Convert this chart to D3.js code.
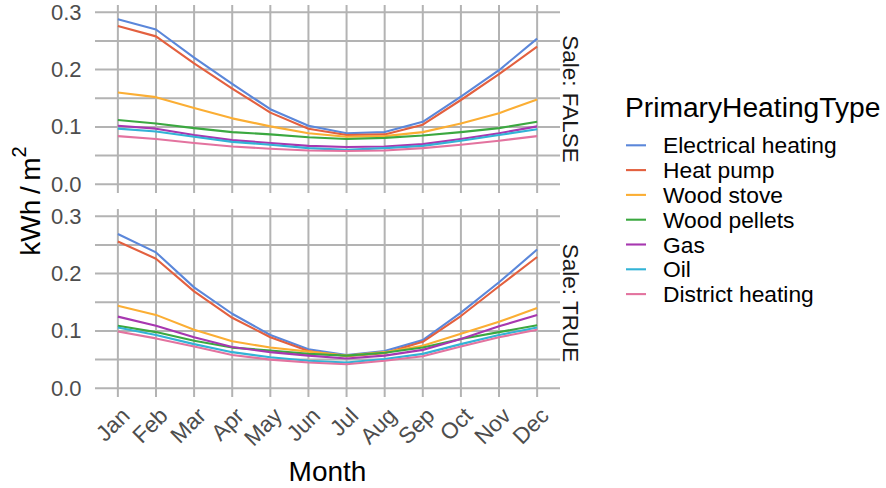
<!DOCTYPE html>
<html>
<head>
<meta charset="utf-8">
<script src="https://cdn.jsdelivr.net/npm/d3@7"></script>
<style>
  html, body { margin: 0; padding: 0; background: #ffffff; }
  svg { display: block; font-family: "Liberation Sans", Arial, Helvetica, sans-serif; }
</style>
</head>
<body>
<svg id="chart" width="886" height="488"></svg>
<script>
// Months on the x axis
const months = ["Jan","Feb","Mar","Apr","May","Jun","Jul","Aug","Sep","Oct","Nov","Dec"];

// Heating types (legend order) and their colours
const heatingTypes = ["Electrical heating","Heat pump","Wood stove","Wood pellets","Gas","Oil","District heating"];
const heatingColors = ["#5b87da","#e3603f","#fbae34","#3ba840","#a737b0","#32b3d6","#e3739f"];

// Facet labels
const facetLabels = ["Sale: FALSE","Sale: TRUE"];

// Y axis ticks
const yTicks = [0.0, 0.1, 0.2, 0.3];
const yGrid = [0.0, 0.05, 0.1, 0.15, 0.2, 0.25, 0.3];

// Monthly consumption, kWh/m2 — Sale: FALSE
const electricalFalse = [0.288,0.270,0.221,0.175,0.131,0.102,0.089,0.091,0.109,0.153,0.199,0.254];
const heatPumpFalse   = [0.276,0.258,0.211,0.167,0.125,0.097,0.086,0.087,0.104,0.147,0.192,0.240];
const woodStoveFalse  = [0.160,0.152,0.133,0.115,0.101,0.089,0.083,0.084,0.091,0.106,0.124,0.148];
const pelletsFalse    = [0.112,0.106,0.098,0.091,0.087,0.082,0.079,0.081,0.085,0.091,0.098,0.109];
const gasFalse        = [0.102,0.097,0.086,0.077,0.072,0.067,0.065,0.066,0.070,0.079,0.089,0.101];
const oilFalse        = [0.097,0.092,0.083,0.074,0.069,0.063,0.060,0.063,0.067,0.076,0.086,0.096];
const districtFalse   = [0.084,0.079,0.072,0.066,0.062,0.059,0.058,0.059,0.063,0.069,0.076,0.084];

// Monthly consumption, kWh/m2 — Sale: TRUE
const electricalTrue = [0.269,0.237,0.176,0.130,0.093,0.068,0.058,0.065,0.084,0.132,0.185,0.242];
const heatPumpTrue   = [0.256,0.226,0.169,0.123,0.089,0.065,0.056,0.061,0.081,0.126,0.178,0.229];
const woodStoveTrue  = [0.144,0.128,0.102,0.082,0.071,0.064,0.057,0.063,0.074,0.095,0.116,0.140];
const pelletsTrue    = [0.109,0.098,0.083,0.071,0.066,0.060,0.057,0.062,0.071,0.086,0.098,0.110];
const gasTrue        = [0.125,0.109,0.089,0.072,0.063,0.057,0.052,0.057,0.067,0.086,0.108,0.128];
const oilTrue        = [0.106,0.093,0.077,0.063,0.054,0.048,0.045,0.051,0.060,0.077,0.093,0.106];
const districtTrue   = [0.099,0.087,0.073,0.058,0.050,0.045,0.042,0.048,0.056,0.073,0.089,0.102];

const panelSeries = [
  [electricalFalse, heatPumpFalse, woodStoveFalse, pelletsFalse, gasFalse, oilFalse, districtFalse],
  [electricalTrue, heatPumpTrue, woodStoveTrue, pelletsTrue, gasTrue, oilTrue, districtTrue]
];

const svg = d3.select("#chart");
const gridColor = "#b3b3b3";

const panelLeft = 95, panelRight = 560, panelH = 188;
const panelTops = [5, 209];

const x = d3.scalePoint().domain(months).range([panelLeft, panelRight]).padding(0.6);

panelSeries.forEach((seriesSet, p) => {
  const top = panelTops[p];
  const y = d3.scaleLinear().domain([-0.0152, 0.3127]).range([top + panelH, top]);
  const g = svg.append("g");

  // horizontal grid
  g.selectAll("line.hg").data(yGrid).join("line")
    .attr("x1", panelLeft).attr("x2", panelRight)
    .attr("y1", d => y(d)).attr("y2", d => y(d))
    .attr("stroke", gridColor).attr("stroke-width", 2);

  // vertical grid
  g.selectAll("line.vg").data(months).join("line")
    .attr("x1", d => x(d)).attr("x2", d => x(d))
    .attr("y1", top).attr("y2", top + panelH)
    .attr("stroke", gridColor).attr("stroke-width", 2);

  // y tick labels
  g.selectAll("text.yt").data(yTicks).join("text")
    .attr("x", 81.5).attr("y", d => y(d))
    .attr("text-anchor", "end").attr("dominant-baseline", "central")
    .attr("fill", "#4d4d4d").attr("font-size", 22)
    .text(d => d3.format(".1f")(d));

  // series lines
  const line = d3.line().x((d, i) => x(months[i])).y(d => y(d));
  g.selectAll("path.series").data(seriesSet).join("path")
    .attr("d", d => line(d))
    .attr("fill", "none")
    .attr("stroke", (d, i) => heatingColors[i])
    .attr("stroke-width", 2.1)
    .attr("stroke-linejoin", "round");

  // facet strip label
  g.append("text")
    .attr("transform", `translate(570.5,${top + panelH / 2}) rotate(90)`)
    .attr("text-anchor", "middle").attr("dominant-baseline", "central")
    .attr("fill", "#1a1a1a").attr("font-size", 22.5)
    .text(facetLabels[p]);
});

// x tick labels, rotated
svg.append("g").selectAll("text").data(months).join("text")
  .attr("transform", d => `translate(${x(d) + 2},${406}) rotate(-45)`)
  .attr("text-anchor", "end").attr("dy", "0.7em")
  .attr("fill", "#4d4d4d").attr("font-size", 22.5)
  .text(d => d);

// axis titles
svg.append("text")
  .attr("x", (panelLeft + panelRight) / 2).attr("y", 481)
  .attr("text-anchor", "middle").attr("font-size", 28).attr("fill", "#000")
  .text("Month");

const yTitle = svg.append("text")
  .attr("transform", "translate(30,201) rotate(-90)")
  .attr("text-anchor", "middle").attr("dominant-baseline", "central")
  .attr("font-size", 28).attr("fill", "#000");
yTitle.append("tspan").text("kWh\u2009/\u2009m");
yTitle.append("tspan").attr("font-size", 20).attr("dy", "-0.55em").text("2");

// legend
const legend = svg.append("g");
legend.append("text")
  .attr("x", 625).attr("y", 116.5)
  .attr("font-size", 28.2).attr("fill", "#000")
  .text("PrimaryHeatingType");

const items = legend.selectAll("g.item").data(heatingTypes).join("g")
  .attr("transform", (d, i) => `translate(0,${145.3 + i * 24.8})`);
items.append("line")
  .attr("x1", 626).attr("x2", 646).attr("y1", 0).attr("y2", 0)
  .attr("stroke", (d, i) => heatingColors[i]).attr("stroke-width", 2.1);
items.append("text")
  .attr("x", 663).attr("y", 0).attr("dominant-baseline", "central")
  .attr("font-size", 22.8).attr("fill", "#000")
  .text(d => d);
</script>
</body>
</html>
